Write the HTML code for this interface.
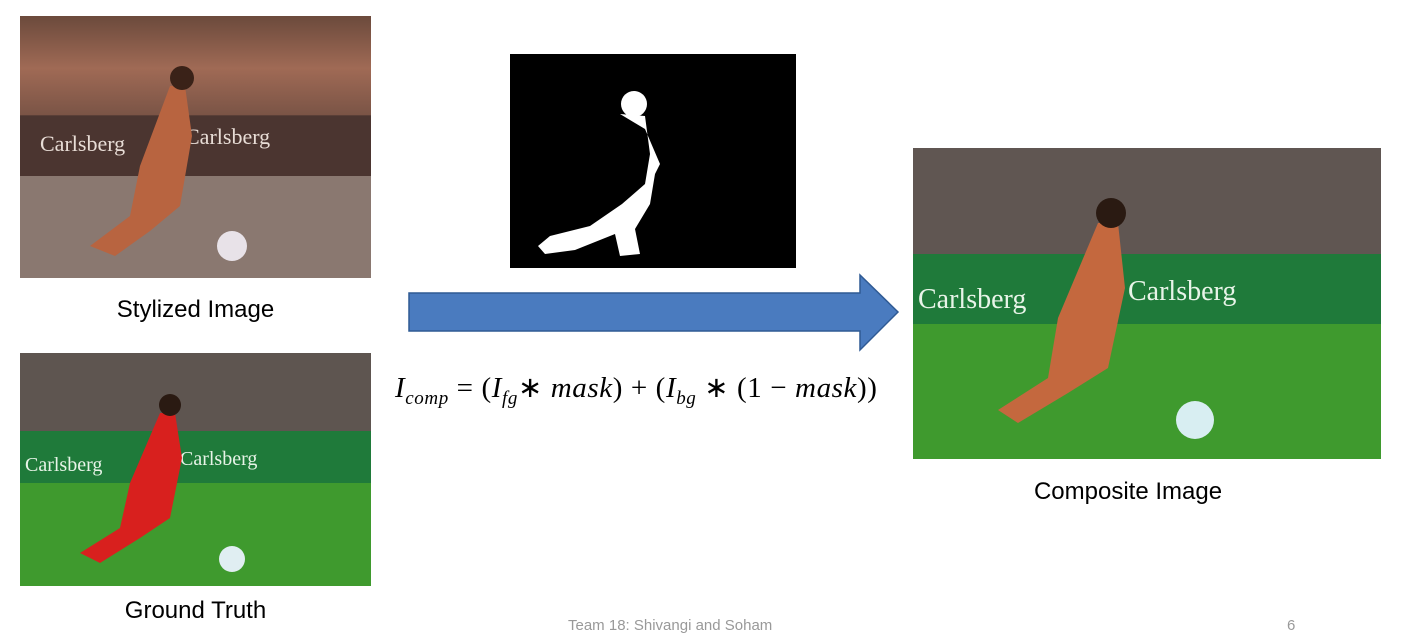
<!DOCTYPE html>
<html><head><meta charset="utf-8"><style>
html,body{margin:0;padding:0;background:#fff;}
body{width:1408px;height:625px;position:relative;overflow:hidden;font-family:"Liberation Sans",sans-serif;}
.abs{position:absolute;}
.cap{position:absolute;font-size:24px;color:#000;text-align:center;}
</style></head><body>

<div class="abs" style="left:20px;top:16px;width:351px;height:262px;background:linear-gradient(#6b4a3c 0%,#a06a55 20%,#7a5446 38%,#8a5a48 34%,#3a2a28 36%,#5a3f3a 60%,#4a3530 61%,#8c7a72 62%,#7f6e66 100%);overflow:hidden;">
  <svg width="351" height="262" style="position:absolute;left:0;top:0">
    <rect x="0" y="100" width="351" height="60" fill="#4b3530"/>
    <text x="20" y="135" fill="#e8ddd6" font-size="22" font-family="Liberation Serif">Carlsberg</text>
    <text x="165" y="128" fill="#e8ddd6" font-size="22" font-family="Liberation Serif">Carlsberg</text>
    <rect x="0" y="160" width="351" height="102" fill="#8a7870"/>
    <path d="M150 70 L165 70 L172 120 L160 190 L130 215 L95 240 L70 230 L110 200 L120 150 Z" fill="#b86440"/>
    <circle cx="162" cy="62" r="12" fill="#3a2218"/>
    <circle cx="212" cy="230" r="15" fill="#e8e2e8"/>
  </svg>
</div>
<div class="cap" style="left:20px;top:296px;width:351px;">Stylized Image</div>

<div class="abs" style="left:20px;top:353px;width:351px;height:233px;overflow:hidden;background:#4a4440;">
  <svg width="351" height="233" style="position:absolute;left:0;top:0">
    <rect x="0" y="0" width="351" height="80" fill="#5e5550"/>
    <rect x="0" y="78" width="351" height="52" fill="#1f7a3a"/>
    <text x="5" y="118" fill="#e8f4e8" font-size="20" font-family="Liberation Serif">Carlsberg</text>
    <text x="160" y="112" fill="#e8f4e8" font-size="20" font-family="Liberation Serif">Carlsberg</text>
    <rect x="0" y="130" width="351" height="103" fill="#3f9a2e"/>
    <path d="M140 60 L155 60 L162 105 L150 165 L120 185 L80 210 L60 200 L100 175 L110 130 Z" fill="#d8201e"/>
    <circle cx="150" cy="52" r="11" fill="#2a1a12"/>
    <circle cx="212" cy="206" r="13" fill="#e0eef2"/>
  </svg>
</div>
<div class="cap" style="left:20px;top:597px;width:351px;">Ground Truth</div>

<div class="abs" style="left:510px;top:54px;width:286px;height:214px;background:#000;">
  <svg width="286" height="214" style="position:absolute;left:0;top:0">
    <circle cx="124" cy="50" r="13" fill="#fff"/>
    <path d="M110 60 L135 62 L140 100 L135 130 L112 150 L80 172 L40 182 L28 192 L35 200 L65 196 L105 180 L110 202 L130 200 L125 175 L140 150 L145 120 L150 110 L135 75 Z" fill="#fff"/>
  </svg>
</div>

<svg class="abs" style="left:405px;top:272px" width="500" height="82">
  <path d="M4 21 L455 21 L455 3 L493 40 L455 78 L455 59 L4 59 Z" fill="#4a7bbf" stroke="#2f5a94" stroke-width="1.5"/>
</svg>

<div class="abs" style="left:395px;top:370px;width:500px;font-family:'Liberation Serif',serif;font-size:29px;letter-spacing:0.6px;color:#000;white-space:nowrap;"><i>I</i><sub style="font-size:19px"><i>comp</i></sub> = (<i>I</i><sub style="font-size:19px"><i>fg</i></sub>∗ <i>mask</i>) + (<i>I</i><sub style="font-size:19px"><i>bg</i></sub> ∗ (1 − <i>mask</i>))</div>

<div class="abs" style="left:913px;top:148px;width:468px;height:311px;overflow:hidden;background:#5a504c;">
  <svg width="468" height="311" style="position:absolute;left:0;top:0">
    <rect x="0" y="0" width="468" height="108" fill="#605652"/>
    <rect x="0" y="106" width="468" height="70" fill="#1f7a3a"/>
    <text x="5" y="160" fill="#e8f4e8" font-size="28" font-family="Liberation Serif">Carlsberg</text>
    <text x="215" y="152" fill="#e8f4e8" font-size="28" font-family="Liberation Serif">Carlsberg</text>
    <rect x="0" y="176" width="468" height="135" fill="#3f9a2e"/>
    <path d="M185 75 L205 75 L212 140 L195 220 L155 245 L105 275 L85 262 L135 230 L145 170 Z" fill="#c4683e"/>
    <circle cx="198" cy="65" r="15" fill="#2a1a12"/>
    <circle cx="282" cy="272" r="19" fill="#d8eef2"/>
  </svg>
</div>
<div class="cap" style="left:913px;top:478px;width:430px;">Composite Image</div>

<div class="abs" style="left:568px;top:617px;font-size:15px;color:#999;">Team 18: Shivangi and Soham</div>
<div class="abs" style="left:1287px;top:617px;font-size:15px;color:#999;">6</div>
</body></html>
